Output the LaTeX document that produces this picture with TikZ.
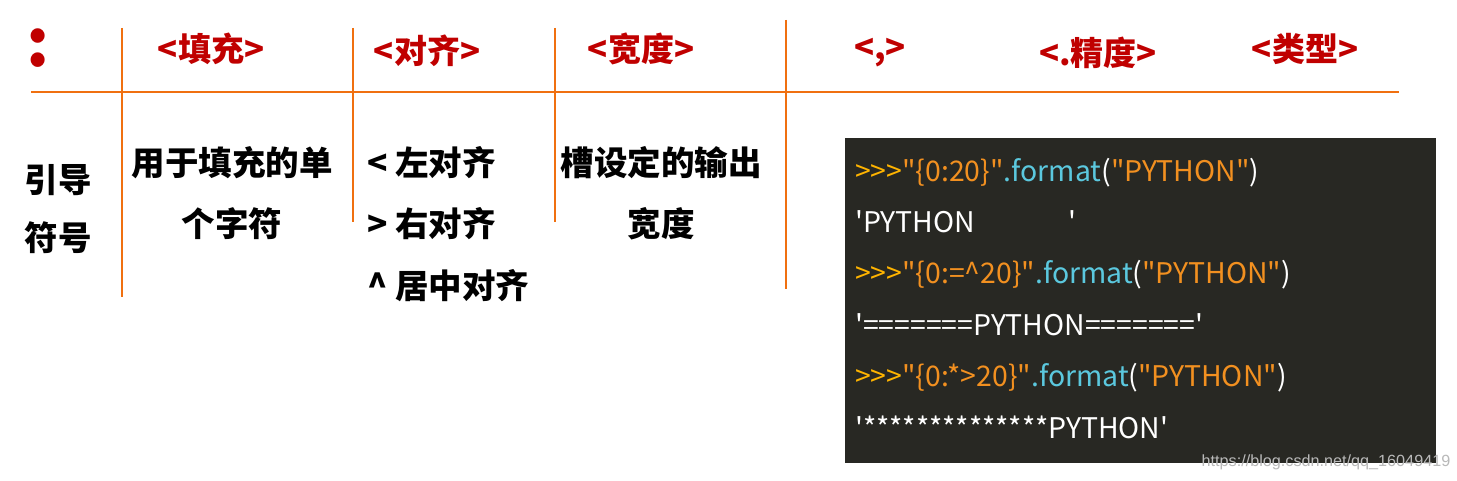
\documentclass[tikz,border=0pt]{standalone}
\usepackage{fontspec}
\setmainfont{Noto Sans CJK SC}
\newfontfamily\codefont{Noto Sans CJK SC}[Ligatures=TeXOff]
\newfontfamily\wmfont{Liberation Sans}
\definecolor{hred}{HTML}{C00000}
\definecolor{lineor}{HTML}{F07010}
\definecolor{codebg}{HTML}{282823}
\definecolor{cyel}{HTML}{FFB400}
\definecolor{corg}{HTML}{F29020}
\definecolor{ccyan}{HTML}{5BC8DE}
\begin{document}
\begin{tikzpicture}[x=1pt,y=-1pt,
  hdr/.style={text=hred,font=\bfseries\fontsize{33}{38}\selectfont,inner sep=0},
  body/.style={text=black,font=\bfseries\fontsize{33.5}{38}\selectfont,inner sep=0},
  bodyl/.style={body,anchor=west},
  code/.style={anchor=west,font=\codefont\fontsize{28.4}{34}\selectfont,text=white,inner sep=0,text height=0.75em,text depth=0.25em},
  hline/.style={draw=lineor,line width=2pt},
  vline/.style={draw=lineor,line width=1.2pt},
  ]
\useasboundingbox[fill=white] (0,0) rectangle (1457,481);
% rules
\draw[hline] (31,92) -- (1399,92);
\draw[vline] (122,28) -- (122,297);
\draw[vline] (353,28) -- (353,222);
\draw[vline] (555,28) -- (555,222);
\draw[vline] (786,20) -- (786,289);
% header
\node[hdr,font=\bfseries\fontsize{66}{66}\selectfont] (colon) at (38,48) {:};
\node[hdr] (fill) at (211,49) {<填充>};
\node[hdr] (align) at (427,51) {<对齐>};
\node[hdr] (width) at (641,49) {<宽度>};
\node[hdr] (comma) at (880,53) {<,>};
\node[hdr] (prec) at (1098,53) {<.精度>};
\node[hdr] (type) at (1305,49) {<类型>};
% body
\node[body] (lead1) at (58,180) {引导};
\node[body] (lead2) at (58,238) {符号};
\node[body] (fill1) at (232,163) {用于填充的单};
\node[body] (fill2) at (232,224) {个字符};
\node[bodyl] (al1) at (367,163) {< 左对齐};
\node[bodyl] (al2) at (367,224) {> 右对齐};
\node[bodyl] (al3) at (367,286) {\textasciicircum{} 居中对齐};
\node[body] (w1) at (661,163) {槽设定的输出};
\node[body] (w2) at (661,224) {宽度};
% code box
\fill[codebg] (845,138) rectangle (1436,463);
\node[code] (c1) at (855,179) {\textcolor{cyel}{>>>}\textcolor{corg}{"\{0:20\}"}\textcolor{ccyan}{.format}(\textcolor{corg}{"PYTHON"})};
\node[code] (c2) at (855,230) {\makebox[213pt][l]{'PYTHON}'};
\node[code] (c3) at (855,281) {\textcolor{cyel}{>>>}\textcolor{corg}{"\{0:=\textasciicircum20\}"}\textcolor{ccyan}{.format}(\textcolor{corg}{"PYTHON"})};
\node[code] (c4) at (855,333) {'=======PYTHON======='};
\node[code] (c5) at (855,384) {\textcolor{cyel}{>>>}\textcolor{corg}{"\{0:*>20\}"}\textcolor{ccyan}{.format}(\textcolor{corg}{"PYTHON"})};
\node[code] (c6) at (855,436) {'**************PYTHON'};
\node[text=gray!55,font=\wmfont\fontsize{16.2}{19}\selectfont,inner sep=0] (wm) at (1326,462) {https://blog.csdn.net/qq\_16049419};
\end{tikzpicture}
\end{document}
